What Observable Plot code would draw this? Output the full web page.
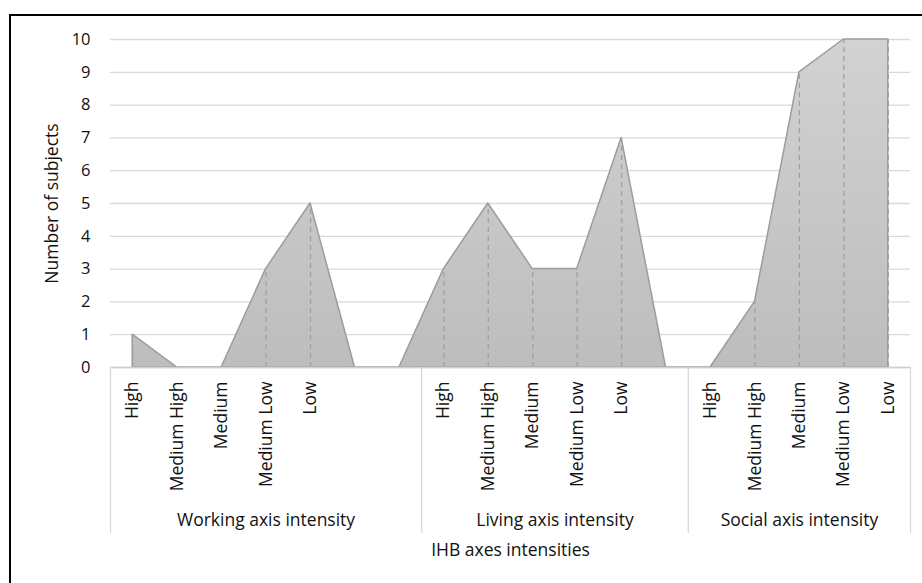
<!DOCTYPE html>
<html>
<head>
<meta charset="utf-8">
<script src="https://cdn.jsdelivr.net/npm/d3@7"></script>
<script src="https://cdn.jsdelivr.net/npm/@observablehq/plot@0.6"></script>
<style>
  html, body { margin: 0; padding: 0; background: #fff; overflow: hidden; }
  #wrap { position: relative; width: 922px; height: 583px; overflow: hidden; }
  #wrap svg { display: block; }
  #border { position: absolute; left: 9px; top: 14px; width: 1000px; height: 700px;
            border-left: 2px solid #000; border-top: 2px solid #000; pointer-events: none; }
</style>
</head>
<body>
<div id="wrap"><div id="border"></div></div>
<script>
// ---- data ----
const groupNames = ["Working axis intensity", "Living axis intensity", "Social axis intensity"];
const workingLabels = ["High", "Medium High", "Medium", "Medium Low", "Low", "", ""];
const workingValues = [1, 0, 0, 3, 5, 0, 0];
const livingLabels = ["High", "Medium High", "Medium", "Medium Low", "Low", ""];
const livingValues = [3, 5, 3, 3, 7, 0];
const socialLabels = ["High", "Medium High", "Medium", "Medium Low", "Low"];
const socialValues = [0, 2, 9, 10, 10];
const yTicks = [0, 1, 2, 3, 4, 5, 6, 7, 8, 9, 10];
const yTitle = "Number of subjects";
const xTitle = "IHB axes intensities";

// ---- build table ----
const groups = [
  {name: groupNames[0], labels: workingLabels, values: workingValues},
  {name: groupNames[1], labels: livingLabels, values: livingValues},
  {name: groupNames[2], labels: socialLabels, values: socialValues}
];
const rows = [];
const groupInfo = [];
let idx = 0;
for (const g of groups) {
  const start = idx;
  g.labels.forEach((lab, k) => { rows.push({i: idx, label: lab, v: g.values[k], group: g.name}); idx++; });
  groupInfo.push({name: g.name, start: start - 0.5, end: idx - 0.5, center: (start + idx - 1) / 2});
}
const n = idx;
const boundaries = [groupInfo[0].start, ...groupInfo.map(d => d.end)];

const defs = () => {
  const d = d3.create("svg:defs");
  const lg = d.append("linearGradient").attr("id", "areaGrad")
    .attr("x1", 0).attr("y1", 0).attr("x2", 0).attr("y2", 1);
  lg.append("stop").attr("offset", "0%").attr("stop-color", "#d2d2d2");
  lg.append("stop").attr("offset", "100%").attr("stop-color", "#bdbdbd");
  const f = d.append("filter").attr("id", "shadow").attr("x", "-5%").attr("y", "-5%").attr("width", "110%").attr("height", "110%");
  f.append("feDropShadow").attr("dx", 1).attr("dy", 1).attr("stdDeviation", 1.2).attr("flood-color", "#000").attr("flood-opacity", 0.25);
  return d.node();
};

const FONT = "'Open Sans', Lato, sans-serif";
const TXT = 17.5;
const chart = Plot.plot({
  width: 922,
  height: 583,
  marginTop: 39,
  marginBottom: 216,
  marginLeft: 110,
  marginRight: 12,
  style: {fontFamily: FONT, fontSize: "16px", color: "#111", background: "transparent"},
  x: {type: "linear", domain: [-0.5, n - 0.5], axis: null},
  y: {domain: [0, 10], axis: null},
  marks: [
    defs,
    Plot.ruleY(yTicks, {x1: -0.5, x2: n - 0.5, stroke: "#d9d9d9", strokeWidth: 1.3, strokeOpacity: 1}),
    Plot.areaY(rows, {x: "i", y: "v", fill: "url(#areaGrad)", stroke: "#9c9c9c", strokeWidth: 1.5, style: "filter:url(#shadow)"}),
    Plot.ruleX(rows.filter(d => d.v > 0), {x: "i", y1: 0, y2: "v", stroke: "#a0a0a0", strokeWidth: 1.3, strokeDasharray: "5,4"}),
    Plot.ruleY([0], {x1: -0.5, x2: n - 0.5, stroke: "#d0d0d0", strokeWidth: 1.5}),
    Plot.axisX({ticks: boundaries, tickSize: 166, tickFormat: () => "", stroke: "#d9d9d9", strokeWidth: 1.3, strokeOpacity: 1, label: null}),
    Plot.axisY({ticks: yTicks, tickSize: 0, tickPadding: 20, label: null, fontSize: 16.5}),
    Plot.text(rows.filter(d => d.label), {x: "i", y: 0, text: "label", rotate: -90, textAnchor: "end", lineAnchor: "middle", dy: 14, fontSize: TXT, fill: "#111"}),
    Plot.text(groupInfo, {x: "center", y: 0, text: "name", dy: 153, fontSize: TXT, fill: "#111"}),
    Plot.text([xTitle], {x: (n - 1) / 2, y: 0, text: d => d, dy: 183, fontSize: TXT, fill: "#111"}),
    Plot.text([yTitle], {frameAnchor: "left", text: d => d, rotate: -90, textAnchor: "middle", lineAnchor: "middle", dx: -58, fontSize: TXT, fill: "#111"})
  ]
});
document.getElementById("wrap").prepend(chart);
</script>
</body>
</html>
